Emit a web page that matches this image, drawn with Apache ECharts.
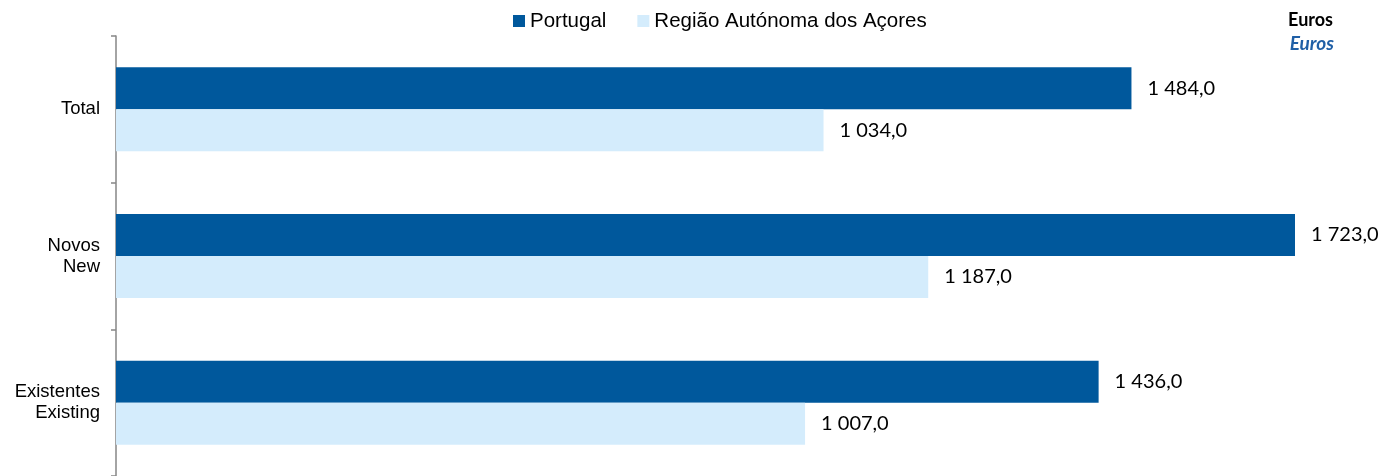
<!DOCTYPE html>
<html lang="pt" style="height: 100%">
<head>
    <meta charset="utf-8">
</head>
<body style="height: 100%; margin: 0">
<div id="container" style="width: 1382px; height: 476px"></div>

<script type="text/javascript" src="https://fastly.jsdelivr.net/npm/echarts@6/dist/echarts.min.js"></script>
<script type="text/javascript">
    var categories = ['Total', 'Novos\nNew', 'Existentes\nExisting'];
    var portugal = [1484.0, 1723.0, 1436.0];
    var acores = [1034.0, 1187.0, 1007.0];

    var dom = document.getElementById('container');
    var myChart = echarts.init(dom, null, { renderer: 'canvas' });

    // formato português: espaço nos milhares, vírgula decimal
    function fmt(v) {
        var s = v.toFixed(1).split('.');
        return s[0].replace(/\B(?=(\d{3})+(?!\d))/g, ' ') + ',' + s[1];
    }

    var labelStyle = {
        show: true,
        position: 'right',
        distance: 16,
        fontFamily: 'Lato',
        fontSize: 20,
        color: '#000',
        formatter: function (p) { return fmt(p.value); }
    };

    var option = {
        animation: false,
        legend: {
            left: 513,
            top: 10,
            padding: 0,
            icon: 'rect',
            itemWidth: 12,
            itemHeight: 12,
            itemGap: 31,
            textStyle: {
                fontFamily: 'Liberation Sans',
                fontSize: 20.5,
                lineHeight: 22,
                color: '#000'
            },
            data: ['Portugal', 'Região Autónoma dos Açores']
        },
        graphic: [
            {
                type: 'text',
                right: 49,
                top: 11,
                style: {
                    text: 'Euros',
                    fontFamily: 'Lato',
                    fontWeight: 'bold',
                    fontSize: 18,
                    fill: '#000'
                }
            },
            {
                type: 'text',
                right: 48,
                top: 34,
                style: {
                    text: 'Euros',
                    fontFamily: 'Lato',
                    fontWeight: 'bold',
                    fontStyle: 'italic',
                    fontSize: 19,
                    fill: '#1f5fa6'
                }
            }
        ],
        grid: {
            left: 116,
            right: 87,
            top: 36,
            bottom: -1,
            containLabel: false
        },
        xAxis: {
            type: 'value',
            min: 0,
            max: 1723,
            show: false
        },
        yAxis: {
            type: 'category',
            inverse: true,
            data: categories,
            axisLine: { lineStyle: { color: '#868686', width: 1.5 } },
            axisTick: { show: true, length: 5, lineStyle: { color: '#868686', width: 1.5 } },
            axisLabel: {
                margin: 16,
                fontFamily: 'Liberation Sans',
                fontSize: 18.5,
                lineHeight: 21,
                color: '#000',
                align: 'right'
            }
        },
        series: [
            {
                name: 'Portugal',
                type: 'bar',
                barWidth: 42,
                barGap: '0%',
                itemStyle: { color: '#00589c' },
                label: labelStyle,
                data: portugal
            },
            {
                name: 'Região Autónoma dos Açores',
                type: 'bar',
                barWidth: 42,
                barGap: '0%',
                itemStyle: { color: '#d4ecfc' },
                label: labelStyle,
                data: acores
            }
        ]
    };

    myChart.setOption(option);
    window.addEventListener('resize', myChart.resize);
</script>
</body>
</html>
